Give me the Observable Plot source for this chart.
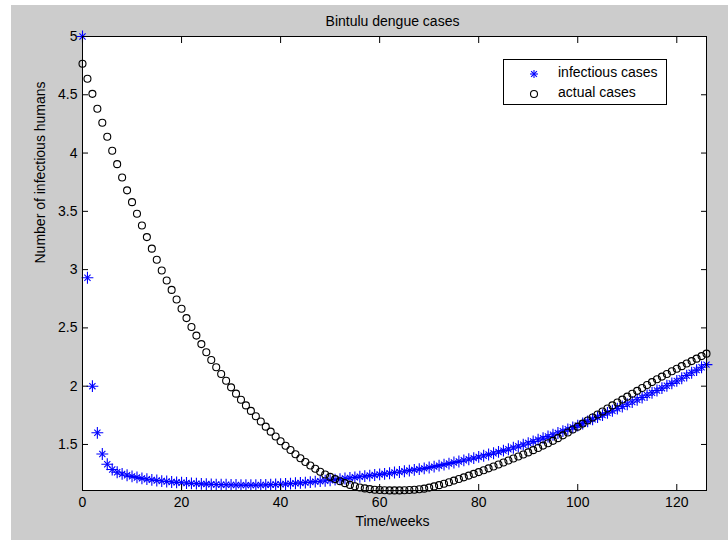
<!DOCTYPE html>
<html>
<head>
<meta charset="utf-8">
<script src="https://cdn.jsdelivr.net/npm/d3@7"></script>
<script src="https://cdn.jsdelivr.net/npm/@observablehq/plot@0.6"></script>
<style>
  html, body { margin: 0; padding: 0; background: #ffffff; }
  #wrap { position: relative; width: 728px; height: 540px; overflow: hidden; font-family: "Liberation Sans", Arial, sans-serif; }
  #bg { position: absolute; left: 11px; top: 5px; right: 0; bottom: 0; background: #cccccc; }
  #chart { position: absolute; left: 0; top: 0; }
  #legend { position: absolute; left: 503px; top: 59px; width: 164px; height: 46px; box-sizing: border-box; border: 1px solid #000; background: #fff; }
  .lg-sym { position: absolute; }
  .lg-txt { position: absolute; font-size: 14px; line-height: 16px; color: #000; white-space: nowrap; }
</style>
</head>
<body>
<div id="wrap">
  <div id="bg"></div>
  <div id="chart"></div>
</div>
<script>
// Number of infectious humans per week (blue stars, "infectious cases")
const infectious = [
  5.000, 2.930, 2.000, 1.600, 1.418, 1.330, 1.285, 1.262, 1.247, 1.236,
  1.226, 1.217, 1.209, 1.202, 1.196, 1.191, 1.186, 1.182, 1.178, 1.175,
  1.172, 1.169, 1.166, 1.164, 1.162, 1.160, 1.158, 1.156, 1.155, 1.154,
  1.153, 1.152, 1.151, 1.151, 1.151, 1.151, 1.152, 1.153, 1.155, 1.157,
  1.159, 1.161, 1.164, 1.167, 1.170, 1.173, 1.177, 1.181, 1.185, 1.189,
  1.193, 1.198, 1.203, 1.208, 1.213, 1.218, 1.223, 1.228, 1.233, 1.238,
  1.243, 1.248, 1.253, 1.259, 1.264, 1.270, 1.276, 1.282, 1.288, 1.295,
  1.302, 1.310, 1.318, 1.327, 1.336, 1.345, 1.354, 1.364, 1.373, 1.383,
  1.393, 1.403, 1.414, 1.425, 1.436, 1.447, 1.459, 1.472, 1.485, 1.498,
  1.512, 1.526, 1.540, 1.554, 1.568, 1.583, 1.598, 1.614, 1.630, 1.646,
  1.662, 1.680, 1.698, 1.716, 1.734, 1.752, 1.771, 1.789, 1.808, 1.826,
  1.845, 1.864, 1.884, 1.903, 1.923, 1.943, 1.963, 1.983, 2.004, 2.024,
  2.045, 2.068, 2.091, 2.115, 2.138, 2.162, 2.185
];
// Actual cases per week (black circles, "actual cases")
const actual = [
  4.766, 4.637, 4.508, 4.380, 4.260, 4.140, 4.020, 3.905, 3.790, 3.680,
  3.579, 3.479, 3.379, 3.279, 3.180, 3.085, 2.993, 2.907, 2.826, 2.744,
  2.664, 2.584, 2.508, 2.434, 2.361, 2.291, 2.224, 2.163, 2.104, 2.046,
  1.990, 1.936, 1.884, 1.835, 1.788, 1.742, 1.697, 1.653, 1.610, 1.568,
  1.528, 1.489, 1.452, 1.416, 1.382, 1.350, 1.320, 1.292, 1.266, 1.242,
  1.222, 1.203, 1.185, 1.168, 1.153, 1.141, 1.131, 1.123, 1.117, 1.112,
  1.109, 1.107, 1.106, 1.106, 1.106, 1.107, 1.109, 1.112, 1.116, 1.121,
  1.130, 1.140, 1.151, 1.163, 1.176, 1.190, 1.204, 1.218, 1.233, 1.248,
  1.263, 1.279, 1.295, 1.311, 1.328, 1.345, 1.362, 1.380, 1.397, 1.414,
  1.432, 1.451, 1.470, 1.490, 1.510, 1.531, 1.554, 1.578, 1.603, 1.628,
  1.653, 1.679, 1.705, 1.731, 1.757, 1.783, 1.809, 1.835, 1.860, 1.885,
  1.910, 1.935, 1.960, 1.985, 2.010, 2.035, 2.059, 2.082, 2.105, 2.128,
  2.150, 2.172, 2.194, 2.215, 2.236, 2.258, 2.279
];
const xTicks = [0, 20, 40, 60, 80, 100, 120];
const yTicks = [1.5, 2, 2.5, 3, 3.5, 4, 4.5, 5];
const xDomain = [0, 126];
const yDomain = [1.105, 5];
const titleText = "Bintulu dengue cases";
const xLabel = "Time/weeks";
const yLabel = "Number of infectious humans";
const seriesNames = ["infectious cases", "actual cases"];

const weeks = d3.range(infectious.length);
const rows = weeks.map((w, i) => ({week: w, infectious: infectious[i], actual: actual[i]}));

const blue = "#0000ff";
const fmt = d => String(d);
const chart = Plot.plot({
  width: 728,
  height: 540,
  marginLeft: 82,
  marginRight: 22,
  marginTop: 36,
  marginBottom: 50,
  style: {fontFamily: "'Liberation Sans', Arial, sans-serif", fontSize: "14px", background: "transparent", color: "#000", overflow: "visible"},
  x: {domain: xDomain, label: null},
  y: {domain: yDomain, label: null},
  marks: [
    Plot.frame({fill: "white", stroke: null}),
    Plot.dot(rows, {x: "week", y: "infectious", symbol: "plus", r: 3.9, stroke: blue, strokeWidth: 1.1}),
    Plot.dot(rows, {x: "week", y: "infectious", symbol: "times", r: 2.9, stroke: blue, strokeWidth: 1.1}),
    Plot.dot(rows, {x: "week", y: "actual", symbol: "circle", r: 3.5, stroke: "#000", fill: "none", strokeWidth: 1.1}),
    Plot.axisX({anchor: "bottom", ticks: xTicks, tickSize: -6, tickPadding: 13, tickFormat: fmt, label: null}),
    Plot.axisX({anchor: "top", ticks: xTicks, tickSize: -6, tickFormat: () => "", label: null}),
    Plot.axisY({anchor: "left", ticks: yTicks, tickSize: -6, tickPadding: 11, tickFormat: fmt, label: null}),
    Plot.axisY({anchor: "right", ticks: yTicks, tickSize: -6, tickFormat: () => "", label: null}),
    Plot.frame({stroke: "#000", strokeWidth: 1}),
    Plot.text([titleText], {frameAnchor: "top", lineAnchor: "middle", dy: -15, dx: -2, fontSize: 14, fill: "#000"}),
    Plot.text([xLabel], {frameAnchor: "bottom", lineAnchor: "middle", dy: 31, dx: -2, fontSize: 14, fill: "#000"}),
    Plot.text([yLabel], {frameAnchor: "left", lineAnchor: "middle", dx: -42, rotate: -90, fontSize: 14, fill: "#000"})
  ]
});
document.getElementById("chart").appendChild(chart);

// Legend
const wrap = document.getElementById("wrap");
const legend = document.createElement("div");
legend.id = "legend";
wrap.appendChild(legend);
const symbols = [
  `<svg width="12" height="12" viewBox="-6 -6 12 12"><g stroke="${blue}" stroke-width="1.1"><line x1="-4" y1="0" x2="4" y2="0"/><line x1="0" y1="-4" x2="0" y2="4"/><line x1="-2.9" y1="-2.9" x2="2.9" y2="2.9"/><line x1="-2.9" y1="2.9" x2="2.9" y2="-2.9"/></g></svg>`,
  `<svg width="12" height="12" viewBox="-6 -6 12 12"><circle r="3.5" fill="none" stroke="#000" stroke-width="1.1"/></svg>`
];
const symY = [72.3, 92.3];
seriesNames.forEach((name, i) => {
  const s = document.createElement("div");
  s.className = "lg-sym";
  s.style.left = (534 - 6) + "px";
  s.style.top = (symY[i] - 6) + "px";
  s.innerHTML = symbols[i];
  wrap.appendChild(s);
  const t = document.createElement("div");
  t.className = "lg-txt";
  t.style.left = "558px";
  t.style.top = (symY[i] - 8.5) + "px";
  t.textContent = name;
  wrap.appendChild(t);
});
</script>
</body>
</html>
